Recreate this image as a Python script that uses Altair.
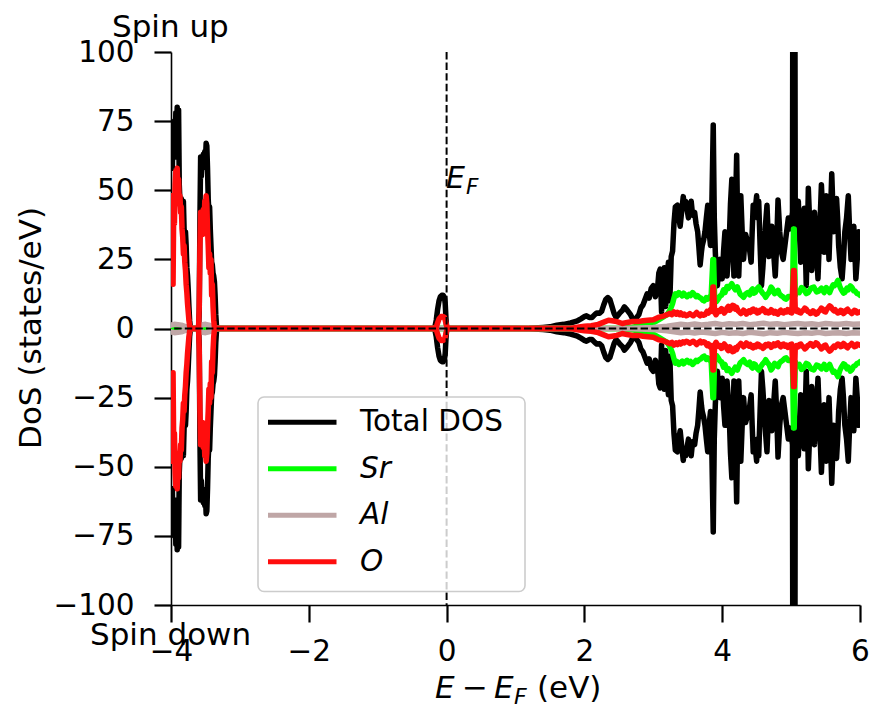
import altair as alt
import pandas as pd

# ---------------- data (spin-up DoS, states/eV); spin-down is the mirror image ----------------
total_up = [
    (-4.00, 62), (-3.99, 68), (-3.98, 58), (-3.97, 74), (-3.96, 66), (-3.95, 75), (-3.94, 62),
    (-3.93, 78), (-3.92, 70), (-3.91, 80), (-3.90, 66), (-3.89, 79), (-3.88, 52), (-3.87, 46),
    (-3.86, 44), (-3.85, 47), (-3.84, 45), (-3.83, 40), (-3.82, 46), (-3.81, 36), (-3.80, 34),
    (-3.79, 35), (-3.78, 30), (-3.77, 22), (-3.76, 19), (-3.75, 14), (-3.74, 8), (-3.73, 3),
    (-3.72, 0.5), (-3.71, 0), (-3.60, 0), (-3.59, 6), (-3.58, 40), (-3.57, 62), (-3.56, 55),
    (-3.55, 60), (-3.54, 58), (-3.53, 63), (-3.52, 60), (-3.51, 64), (-3.50, 61), (-3.49, 67),
    (-3.48, 66), (-3.47, 58), (-3.46, 47), (-3.45, 42), (-3.44, 44), (-3.43, 36), (-3.42, 30),
    (-3.41, 24), (-3.40, 23), (-3.39, 20), (-3.38, 19), (-3.37, 17), (-3.36, 12), (-3.35, 5),
    (-3.34, 1), (-3.33, 0), (-1.00, 0), (-0.20, 0), (-0.17, 0.5), (-0.15, 3), (-0.13, 7),
    (-0.11, 10), (-0.09, 11.5), (-0.07, 12), (-0.05, 12), (-0.03, 11), (-0.02, 9), (-0.01, 4),
    (0.00, 0.5), (0.02, 0), (1.00, 0), (1.20, 0.1), (1.40, 0.4), (1.50, 0.6), (1.60, 1.2),
    (1.70, 1.5), (1.80, 2.0), (1.90, 2.8), (1.95, 3.5), (2.00, 4.3), (2.03, 4.6), (2.07, 4.0),
    (2.11, 4.0), (2.15, 5.0), (2.18, 5.6), (2.22, 5.5), (2.25, 6.2), (2.28, 8.5), (2.31, 10.5),
    (2.34, 11.2), (2.37, 10.5), (2.40, 8.0), (2.43, 5.5), (2.46, 4.0), (2.49, 4.8), (2.52, 5.8),
    (2.55, 6.5), (2.58, 7.8), (2.61, 7.0), (2.64, 6.0), (2.67, 5.0), (2.70, 3.5), (2.73, 3.0),
    (2.76, 4.0), (2.79, 5.0), (2.82, 7.5), (2.85, 8.5), (2.88, 10.5), (2.91, 12.5), (2.94, 11.0),
    (2.97, 14.5), (3.00, 15.5), (3.03, 11.5), (3.06, 14), (3.08, 20), (3.10, 21.5), (3.12, 6),
    (3.14, 18), (3.16, 22), (3.18, 8), (3.20, 19), (3.22, 24), (3.24, 10), (3.26, 26),
    (3.28, 28), (3.30, 38), (3.32, 44), (3.35, 44.6), (3.37, 40), (3.39, 37), (3.41, 42),
    (3.435, 47.7), (3.45, 44), (3.47, 46), (3.49, 43), (3.51, 40), (3.53, 43), (3.55, 46),
    (3.57, 41), (3.60, 42), (3.62, 38), (3.644, 35), (3.66, 30), (3.68, 23), (3.70, 28),
    (3.71, 30), (3.73, 32), (3.75, 35), (3.77, 40), (3.79, 44.6), (3.81, 35), (3.83, 30),
    (3.85, 45), (3.87, 73.6), (3.885, 40), (3.90, 27.6), (3.915, 20), (3.93, 15.5), (3.95, 22),
    (3.97, 25), (3.985, 20), (4.00, 18), (4.02, 28), (4.04, 35), (4.055, 25), (4.07, 19),
    (4.085, 24), (4.10, 30), (4.12, 45), (4.14, 54), (4.155, 35), (4.17, 19), (4.19, 40),
    (4.21, 62.7), (4.225, 35), (4.24, 19), (4.255, 30), (4.27, 48), (4.29, 35), (4.31, 25),
    (4.325, 30), (4.34, 34), (4.36, 32), (4.38, 30), (4.40, 28), (4.42, 24), (4.435, 35),
    (4.45, 44.6), (4.475, 42), (4.50, 48), (4.515, 40), (4.53, 46), (4.55, 30), (4.57, 15.5),
    (4.59, 22), (4.61, 30), (4.63, 38), (4.65, 44.6), (4.665, 35), (4.68, 26), (4.70, 32),
    (4.72, 37), (4.745, 28), (4.77, 19), (4.79, 30), (4.81, 46.5), (4.835, 35), (4.86, 27.6),
    (4.885, 25), (4.91, 30), (4.935, 35), (4.96, 40), (4.98, 36), (5.00, 38), (5.02, 42),
    (5.035, 300), (5.045, 300), (5.06, 40), (5.08, 35), (5.105, 46), (5.12, 35), (5.14, 24),
    (5.165, 35), (5.19, 43.5), (5.205, 30), (5.22, 15.5), (5.235, 30), (5.25, 50.7), (5.275, 35),
    (5.30, 21), (5.32, 30), (5.34, 42), (5.365, 30), (5.39, 18), (5.415, 35), (5.44, 52),
    (5.46, 40), (5.48, 27.6), (5.495, 35), (5.51, 48), (5.53, 38), (5.55, 25), (5.57, 40),
    (5.59, 56), (5.605, 45), (5.62, 35), (5.64, 40), (5.66, 47), (5.675, 40), (5.69, 30),
    (5.715, 22), (5.74, 18), (5.76, 25), (5.78, 35), (5.805, 40), (5.83, 48), (5.85, 35),
    (5.87, 25), (5.89, 30), (5.91, 37), (5.925, 28), (5.94, 18), (5.96, 25), (5.98, 35),
    (6.00, 30),
]

sr_up = [
    (-4.00, 0.5), (-3.90, 0.6), (-3.80, 0.5), (-3.72, 0), (-3.60, 0), (-3.55, 0.5), (-3.45, 0.6),
    (-3.34, 0), (2.50, 0), (2.70, 0.5), (2.80, 1.0), (2.90, 1.5), (3.00, 2.0), (3.10, 3.5),
    (3.20, 5), (3.25, 7), (3.28, 9), (3.30, 11), (3.32, 12.5), (3.34, 11.9), (3.37, 13),
    (3.39, 12.5), (3.42, 11.8), (3.44, 12.8), (3.47, 12), (3.49, 11.5), (3.52, 12.3),
    (3.54, 11.9), (3.57, 13), (3.59, 12.5), (3.62, 11.5), (3.64, 11.9), (3.67, 11.2), (3.69, 11),
    (3.72, 10.2), (3.74, 10), (3.77, 11.2), (3.79, 10.6), (3.82, 11.5), (3.84, 12),
    (3.865, 25), (3.875, 25), (3.89, 11), (3.92, 9.8), (3.94, 10.6), (3.97, 11.8), (3.99, 12),
    (4.02, 14), (4.04, 13), (4.07, 15.2), (4.09, 14.5), (4.12, 15.5), (4.14, 16.2), (4.17, 14.8),
    (4.19, 14), (4.22, 15), (4.24, 13.7), (4.26, 12.5), (4.28, 12), (4.31, 11.3), (4.34, 12.5),
    (4.37, 13), (4.40, 12.2), (4.42, 13.8), (4.44, 14.3), (4.46, 12.8), (4.48, 13), (4.51, 14.5),
    (4.53, 15), (4.56, 13.8), (4.58, 13), (4.61, 12.2), (4.63, 11.3), (4.66, 12.5), (4.68, 13),
    (4.71, 15), (4.73, 14.3), (4.76, 12.6), (4.78, 13), (4.81, 13.8), (4.83, 12.5), (4.86, 11.8),
    (4.88, 11.5), (4.91, 10.8), (4.93, 10.6), (4.96, 11.6), (4.98, 11.5), (5.02, 11.9),
    (5.035, 36), (5.045, 36), (5.06, 12), (5.09, 13.6), (5.12, 13), (5.15, 14.8), (5.18, 14.3),
    (5.22, 12.6), (5.25, 13), (5.29, 14.6), (5.33, 15), (5.37, 13.2), (5.40, 13.5), (5.44, 14.6),
    (5.48, 13), (5.51, 14.8), (5.53, 14), (5.56, 13), (5.58, 14.3), (5.61, 15.8), (5.63, 15.5),
    (5.66, 16.5), (5.68, 17.4), (5.71, 15), (5.73, 14), (5.76, 12.8), (5.78, 13), (5.81, 14.6),
    (5.83, 14), (5.86, 15.4), (5.88, 15), (5.91, 13.6), (5.93, 13.5), (5.96, 12.6), (5.98, 12.5),
    (6.00, 12),
]

al_up = [
    (-4.00, 1.2), (-3.95, 1.5), (-3.90, 1.4), (-3.85, 1.2), (-3.80, 0.8), (-3.75, 0.4),
    (-3.72, 0), (-3.60, 0), (-3.58, 0.8), (-3.54, 1.4), (-3.50, 1.5), (-3.45, 1.2), (-3.40, 0.8),
    (-3.36, 0.3), (-3.33, 0), (2.60, 0), (2.80, 0.2), (3.00, 0.4), (3.20, 0.8), (3.30, 1.2),
    (3.40, 1.5), (3.50, 1.3), (3.60, 1.6), (3.70, 1.3), (3.80, 1.5), (3.90, 1.8), (4.00, 1.4),
    (4.10, 1.7), (4.20, 1.5), (4.30, 1.8), (4.40, 1.4), (4.50, 1.6), (4.60, 1.9), (4.70, 1.5),
    (4.80, 1.7), (4.90, 1.4), (5.00, 1.6), (5.10, 1.8), (5.20, 1.5), (5.30, 1.7), (5.40, 1.4),
    (5.50, 1.8), (5.60, 1.6), (5.70, 1.5), (5.80, 1.8), (5.90, 1.5), (6.00, 1.6),
]

o_up = [
    (-4.00, 40), (-3.99, 48), (-3.98, 22), (-3.97, 16), (-3.96, 45), (-3.95, 38), (-3.94, 52),
    (-3.93, 57), (-3.92, 55), (-3.91, 58), (-3.90, 50), (-3.89, 54), (-3.88, 45), (-3.87, 48),
    (-3.86, 42), (-3.85, 44), (-3.84, 36), (-3.83, 33), (-3.82, 27), (-3.81, 30), (-3.80, 24),
    (-3.79, 21), (-3.78, 16), (-3.77, 13), (-3.76, 9), (-3.75, 6), (-3.74, 3), (-3.73, 1),
    (-3.72, 0), (-3.60, 0), (-3.59, 8), (-3.58, 30), (-3.57, 42), (-3.56, 36), (-3.55, 40),
    (-3.54, 34), (-3.53, 43), (-3.52, 38), (-3.51, 46), (-3.50, 44), (-3.49, 48), (-3.48, 45),
    (-3.47, 36), (-3.46, 30), (-3.45, 22), (-3.44, 27), (-3.43, 20), (-3.42, 25), (-3.41, 12),
    (-3.40, 16), (-3.39, 8), (-3.38, 3), (-3.37, 0.5), (-3.36, 0), (-0.20, 0), (-0.15, 0.5),
    (-0.13, 2), (-0.11, 3.5), (-0.08, 4.3), (-0.05, 4.3), (-0.03, 4), (-0.01, 2), (0.01, 0),
    (1.80, 0), (1.90, 0.5), (2.00, 0.8), (2.10, 1.0), (2.20, 1.5), (2.30, 2.5), (2.35, 3.0),
    (2.40, 2.8), (2.47, 2.5), (2.55, 1.8), (2.62, 2.2), (2.70, 2.5), (2.78, 2.5), (2.85, 2.8),
    (2.92, 3.0), (3.00, 3.2), (3.07, 4.0), (3.15, 4.5), (3.20, 5.0), (3.24, 5.5), (3.27, 5.0),
    (3.30, 6.0), (3.33, 5.2), (3.35, 5.8), (3.38, 5.0), (3.40, 5.6), (3.43, 4.8), (3.45, 5.2),
    (3.48, 4.6), (3.50, 4.8), (3.53, 5.4), (3.55, 5.0), (3.58, 4.6), (3.60, 5.0), (3.63, 5.8),
    (3.65, 5.2), (3.68, 4.6), (3.70, 5.2), (3.73, 4.8), (3.75, 5.0), (3.78, 6.2), (3.80, 5.6),
    (3.83, 6.8), (3.85, 6.2), (3.865, 15), (3.875, 15), (3.89, 6.0), (3.91, 5.0), (3.93, 5.8),
    (3.95, 6.5), (3.97, 6.2), (3.99, 7.2), (4.01, 6.6), (4.03, 5.6), (4.05, 6.2), (4.07, 7.4),
    (4.09, 8.0), (4.11, 6.6), (4.13, 7.2), (4.15, 8.4), (4.17, 8.2), (4.19, 7.0), (4.21, 7.6),
    (4.23, 6.4), (4.25, 6.0), (4.27, 5.4), (4.29, 5.8), (4.31, 6.6), (4.33, 6.2), (4.35, 5.2),
    (4.37, 5.8), (4.39, 6.4), (4.41, 5.8), (4.43, 6.8), (4.45, 7.0), (4.47, 6.2), (4.49, 6.6),
    (4.51, 5.6), (4.53, 5.8), (4.55, 6.6), (4.57, 6.4), (4.59, 7.2), (4.61, 6.8), (4.63, 5.8),
    (4.65, 6.2), (4.67, 5.6), (4.69, 5.8), (4.71, 6.8), (4.73, 6.4), (4.75, 5.6), (4.77, 6.2),
    (4.79, 5.4), (4.81, 5.2), (4.83, 6.2), (4.85, 6.6), (4.87, 5.8), (4.89, 5.6), (4.91, 6.4),
    (4.93, 6.0), (4.95, 6.8), (4.97, 6.4), (4.99, 5.8), (5.01, 5.6), (5.035, 21), (5.045, 21),
    (5.06, 7.0), (5.08, 6.2), (5.10, 6.6), (5.12, 5.8), (5.14, 5.6), (5.16, 6.4), (5.18, 6.6),
    (5.20, 7.4), (5.22, 7.0), (5.24, 6.2), (5.26, 6.0), (5.28, 5.4), (5.30, 5.6), (5.32, 6.4),
    (5.34, 6.0), (5.36, 5.2), (5.38, 5.4), (5.40, 6.2), (5.42, 6.6), (5.44, 7.4), (5.46, 7.0),
    (5.48, 6.2), (5.50, 6.0), (5.52, 7.0), (5.54, 7.6), (5.56, 8.2), (5.58, 7.8), (5.60, 7.0),
    (5.62, 6.4), (5.64, 6.8), (5.66, 6.0), (5.68, 5.6), (5.70, 5.8), (5.72, 6.6), (5.74, 6.4),
    (5.76, 5.4), (5.78, 5.8), (5.80, 6.6), (5.82, 7.0), (5.84, 6.2), (5.86, 6.0), (5.88, 5.4),
    (5.90, 5.8), (5.92, 6.6), (5.94, 6.4), (5.96, 5.6), (5.98, 5.8), (6.00, 6.0),
]

series_names = ["Total DOS", "Sr", "Al", "O"]
series_colors = ["#000000", "#00FF00", "#BFA6A6", "#FF0D0D"]
series_data = [total_up, sr_up, al_up, o_up]

x_ticks = [-4, -2, 0, 2, 4, 6]
y_ticks = [-100, -75, -50, -25, 0, 25, 50, 75, 100]

# ---------------- geometry (pixels) ----------------
PLOT_LEFT, PLOT_TOP = 171, 52
PLOT_W, PLOT_H = 689, 553
FONT = "DejaVu Sans"

minus_expr = "replace(format(datum.value, 'd'), '-', '\u2212')"
x_scale = alt.Scale(domain=[-4, 6], nice=False, zero=False)
y_scale = alt.Scale(domain=[-100, 100], nice=False, zero=False)
x_axis = alt.Axis(values=x_ticks, title=None, grid=False, tickSize=17, tickWidth=2.2,
                  tickColor="black", domainColor="black", domainWidth=1.6,
                  labelFontSize=29.5, labelFont=FONT, labelColor="black", labelPadding=15,
                  labelExpr=minus_expr, labelFlush=False, labelOverlap=False)
y_axis = alt.Axis(values=y_ticks, title=None, grid=False, tickSize=17, tickWidth=2.2,
                  tickColor="black", domainColor="black", domainWidth=1.6,
                  labelFontSize=29.5, labelFont=FONT, labelColor="black", labelPadding=20,
                  labelExpr=minus_expr, labelFlush=False, labelOverlap=False)

X = alt.X("E:Q", scale=x_scale, axis=x_axis)
Y = alt.Y("dos:Q", scale=y_scale, axis=y_axis)

layers = []
for name, color, pts in zip(series_names, series_colors, series_data):
    rows = []
    for spin, sign in (("up", 1), ("down", -1)):
        for e, v in pts:
            rows.append({"E": e, "dos": sign * v, "spin": spin})
    df = pd.DataFrame(rows)
    layers.append(
        alt.Chart(df).mark_line(clip=True, strokeWidth=5.5, strokeJoin="round",
                                strokeCap="round", color=color)
        .encode(x=X, y=Y, detail="spin:N")
    )

one = pd.DataFrame({"k": [0]})
# dashed reference lines at E_F and DoS = 0
layers.append(alt.Chart(one).mark_rule(color="black", strokeWidth=2, strokeDash=[7.4, 3.2])
              .encode(x=alt.X(datum=0, type="quantitative", scale=x_scale, axis=x_axis)))
layers.append(alt.Chart(one).mark_rule(color="black", strokeWidth=2, strokeDash=[7.4, 3.2])
              .encode(y=alt.Y(datum=0, type="quantitative", scale=y_scale, axis=y_axis)))


def txt(s, x, y, size=31, style="normal", align="left", baseline="alphabetic", angle=0):
    kw = dict(text=s, font=FONT, fontSize=size, fontStyle=style, align=align,
              baseline=baseline, color="black")
    if angle:
        kw["angle"] = angle
    return alt.Chart(one).mark_text(**kw).encode(
        x=alt.value(x - PLOT_LEFT), y=alt.value(y - PLOT_TOP))


# E_F label
layers.append(txt("E", 446, 187.5, size=30, style="italic"))
layers.append(txt("F", 466, 193.5, size=21.5, style="italic"))

# legend box
layers.append(alt.Chart(one).mark_rect(fill="white", fillOpacity=0.8, stroke="#cccccc",
                                       strokeWidth=1.6, cornerRadius=6)
              .encode(x=alt.value(258 - PLOT_LEFT), x2=alt.value(525 - PLOT_LEFT),
                      y=alt.value(397 - PLOT_TOP), y2=alt.value(591.5 - PLOT_TOP)))
leg_y0, leg_dy = 422.3, 46.5
for i, (name, color) in enumerate(zip(series_names, series_colors)):
    yy = leg_y0 + i * leg_dy
    layers.append(alt.Chart(one).mark_rule(color=color, strokeWidth=5)
                  .encode(x=alt.value(268 - PLOT_LEFT), x2=alt.value(336.5 - PLOT_LEFT),
                          y=alt.value(yy - PLOT_TOP)))
    layers.append(txt(name, 360, yy, size=29.5, style="normal" if i == 0 else "italic",
                      baseline="middle"))

# spin annotations
layers.append(txt("Spin up", 112, 36.5, size=31))
layers.append(txt("Spin down", 90, 645, size=31))

# axis titles
layers.append(txt("DoS (states/eV)", 32, 328, size=31, align="center", baseline="middle",
                  angle=270))
layers.append(txt("E", 435, 698, size=31, style="italic"))
layers.append(txt("\u2212", 462, 698, size=31))
layers.append(txt("E", 494, 698, size=31, style="italic"))
layers.append(txt("F", 514, 704, size=22, style="italic"))
layers.append(txt("(eV)", 537, 698, size=31))

chart = alt.layer(*layers).properties(
    width=PLOT_W, height=PLOT_H,
    autosize=alt.AutoSizeParams(type="none"),
    padding={"left": PLOT_LEFT, "top": PLOT_TOP, "right": 870 - PLOT_LEFT - PLOT_W,
             "bottom": 708 - PLOT_TOP - PLOT_H},
).configure_view(stroke=None)

chart.save("out.html", embed_options={"renderer": "svg", "actions": False})
